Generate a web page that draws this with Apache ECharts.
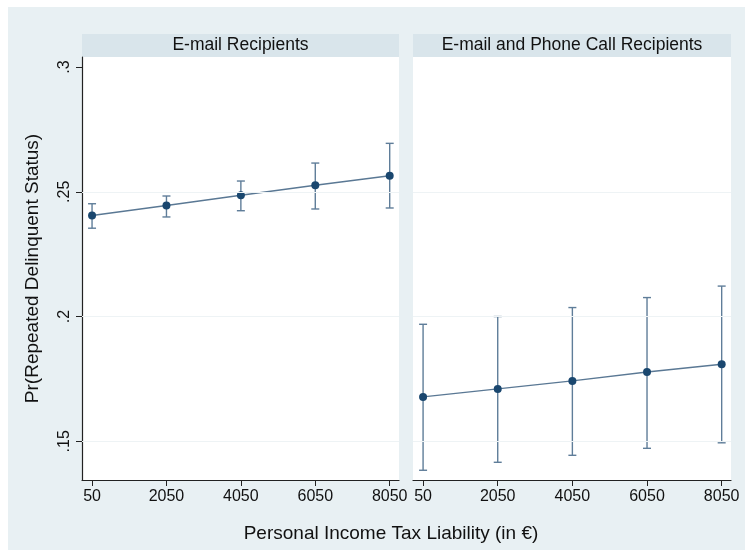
<!DOCTYPE html>
<html>
<head>
<meta charset="utf-8">
<script src="https://cdn.jsdelivr.net/npm/echarts@6/dist/echarts.min.js"></script>
<style>
  html, body { margin: 0; padding: 0; background: #ffffff; }
  #chart { width: 745px; height: 550px; }
</style>
</head>
<body>
<div id="chart"></div>
<script>
// Predicted probability of repeated delinquency by tax liability, with 95% CIs
const incomeLevels = [50, 2050, 4050, 6050, 8050];
const yTicks = [0.15, 0.2, 0.25, 0.3];
const gridValues = [0.15, 0.2, 0.25];
const panelTitles = ['E-mail Recipients', 'E-mail and Phone Call Recipients'];

const emailMean  = [0.2405, 0.2445, 0.2486, 0.2526, 0.2564];
const emailLower = [0.2354, 0.2399, 0.2424, 0.2431, 0.2435];
const emailUpper = [0.2452, 0.2483, 0.2543, 0.2615, 0.2694];

const phoneMean  = [0.1678, 0.1710, 0.1742, 0.1778, 0.1809];
const phoneLower = [0.1384, 0.1416, 0.1444, 0.1472, 0.1494];
const phoneUpper = [0.1969, 0.2000, 0.2036, 0.2076, 0.2122];

const FONT = '"Liberation Sans", Arial, sans-serif';
const MARKER = '#1a476f';
const LINE = '#5a7894';
const CI = '#5f7d99';

function pairs(xs, ys) { return xs.map((x, i) => [x, ys[i]]); }
function ciRows(xs, lo, hi) { return xs.map((x, i) => [x, lo[i], hi[i]]); }

function ciRender(params, api) {
  const x = api.value(0);
  const lo = api.coord([x, api.value(1)]);
  const hi = api.coord([x, api.value(2)]);
  const half = 4;
  const style = { stroke: CI, lineWidth: 1.4, fill: null };
  return {
    type: 'group',
    children: [
      { type: 'line', shape: { x1: lo[0], y1: lo[1], x2: hi[0], y2: hi[1] }, style },
      { type: 'line', shape: { x1: lo[0] - half, y1: lo[1], x2: lo[0] + half, y2: lo[1] }, style },
      { type: 'line', shape: { x1: hi[0] - half, y1: hi[1], x2: hi[0] + half, y2: hi[1] }, style }
    ]
  };
}

function xAxisFor(idx) {
  return {
    type: 'value', gridIndex: idx, min: -220, max: 8300,
    axisLine: { show: true, onZero: false, lineStyle: { color: '#222', width: 1.2 } },
    axisTick: { show: true, length: 6, customValues: incomeLevels, lineStyle: { color: '#222' } },
    axisLabel: {
      show: true, customValues: incomeLevels, margin: 9, color: '#111', fontFamily: FONT, fontSize: 16,
      formatter: v => String(v)
    },
    splitLine: { show: false }
  };
}

function yAxisFor(idx, visible) {
  return {
    type: 'value', gridIndex: idx, min: 0.1345, max: 0.304,
    axisLine: { show: visible, onZero: false, lineStyle: { color: '#222', width: 1.2 } },
    axisTick: { show: visible, length: 6, customValues: yTicks, lineStyle: { color: '#222' } },
    axisLabel: {
      show: visible, customValues: yTicks, rotate: 90, margin: 9,
      color: '#111', fontFamily: FONT, fontSize: 16,
      formatter: v => String(v).replace(/^0/, '')
    },
    splitLine: { show: false },
    name: visible ? 'Pr(Repeated Delinquent Status)' : '',
    nameLocation: 'middle', nameRotate: 90, nameGap: 40,
    nameTextStyle: { fontFamily: FONT, fontSize: 19, color: '#111' }
  };
}

function panelSeries(idx, mean, lo, hi) {
  return [
    {
      type: 'custom', xAxisIndex: idx, yAxisIndex: idx,
      renderItem: ciRender, data: ciRows(incomeLevels, lo, hi), z: 2,
      markLine: {
        silent: true, symbol: 'none', label: { show: false },
        lineStyle: { color: '#eef3f5', width: 1.2, type: 'solid' },
        data: gridValues.map(v => ({ yAxis: v }))
      }
    },
    {
      type: 'line', xAxisIndex: idx, yAxisIndex: idx,
      data: pairs(incomeLevels, mean), z: 3,
      symbol: 'circle', symbolSize: 8,
      itemStyle: { color: MARKER },
      lineStyle: { color: LINE, width: 1.4 }
    }
  ];
}

const chart = echarts.init(document.getElementById('chart'), null, { renderer: 'canvas' });

const strips = [[82, 399], [413, 731]];

chart.setOption({
  animation: false,
  backgroundColor: '#ffffff',
  graphic: [
    { type: 'rect', z: -10, shape: { x: 8, y: 7, width: 737, height: 543 }, style: { fill: '#e8f0f3' } },
    { type: 'rect', z: -9, shape: { x: 82, y: 57, width: 317, height: 423 }, style: { fill: '#ffffff' } },
    { type: 'rect', z: -9, shape: { x: 413, y: 57, width: 318, height: 423 }, style: { fill: '#ffffff' } },
    ...strips.map((s, i) => ({
      type: 'rect', z: -9, shape: { x: s[0], y: 34, width: s[1] - s[0], height: 23 },
      style: { fill: '#d9e5eb' }
    })),
    ...strips.map((s, i) => ({
      type: 'text', z: 5, x: (s[0] + s[1]) / 2, y: 45.5,
      style: { text: panelTitles[i], fill: '#111', font: '17.5px ' + FONT, textAlign: 'center', textVerticalAlign: 'middle' }
    })),
    {
      type: 'text', z: 5, x: 391, y: 534,
      style: { text: 'Personal Income Tax Liability (in €)', fill: '#111', font: '19px ' + FONT, textAlign: 'center', textVerticalAlign: 'middle' }
    }
  ],
  grid: [
    { left: 82, right: 346, top: 57, bottom: 70 },
    { left: 413, right: 14, top: 57, bottom: 70 }
  ],
  xAxis: [xAxisFor(0), xAxisFor(1)],
  yAxis: [yAxisFor(0, true), yAxisFor(1, false)],
  series: [
    ...panelSeries(0, emailMean, emailLower, emailUpper),
    ...panelSeries(1, phoneMean, phoneLower, phoneUpper)
  ]
});
</script>
</body>
</html>
